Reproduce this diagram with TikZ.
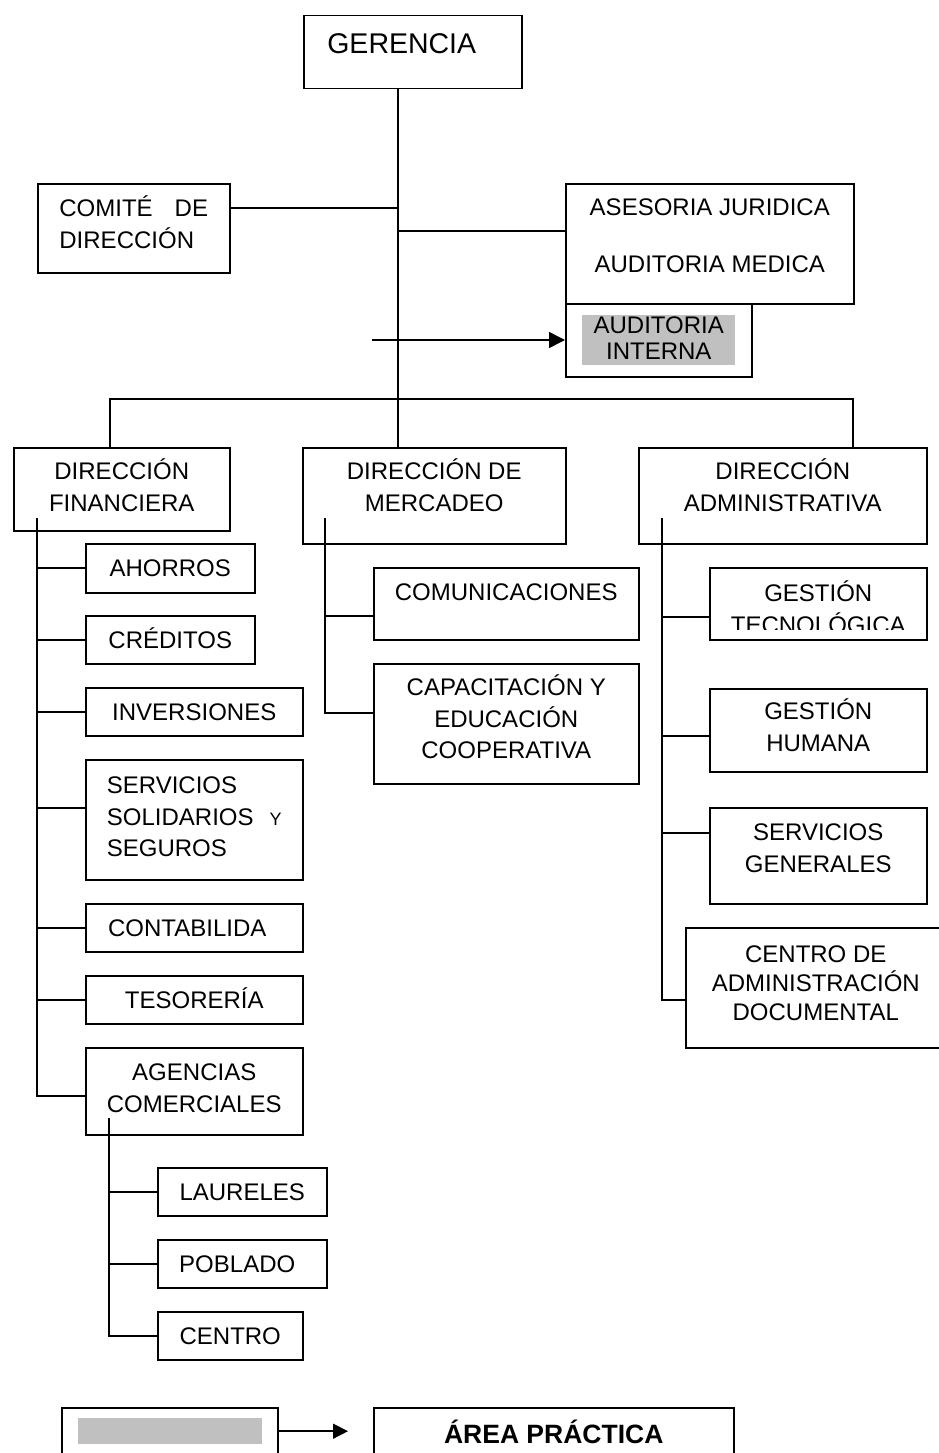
\documentclass[tikz,border=0pt]{standalone}
\usepackage{fontspec}
\setmainfont{Liberation Sans}
\usepackage{tikz}
\usetikzlibrary{positioning,calc,arrows.meta}

\definecolor{marca}{RGB}{192,192,192}
\tikzset{
  unit/.style={draw, line width=1.5pt, anchor=north west, align=center, inner sep=0pt,
    font=\fontsize{24}{31.5}\selectfont},
  oneline/.style={text height=17pt, text depth=0pt},
  link/.style={line width=1.5pt},
  marked/.style={fill=marca, inner sep=0pt},
}

\begin{document}
\begin{tikzpicture}[x=1pt,y=1pt,yscale=-1,xscale=1]
\useasboundingbox (0,0) rectangle (939,1453);
\clip (0,0) rectangle (939,1453);

%Shape: Rectangle [gerencia]
\node [unit, minimum width=218, minimum height=73, text height=20.5pt, text depth=17pt, font=\fontsize{28.5}{34}\selectfont] (gerencia) at (303,15) {GERENCIA\hspace*{22pt}};
%Shape: Rectangle [comite]
\node [unit, minimum width=192, minimum height=89, align=left, text depth=12pt] (comite) at (37,183) {COMITÉ\hspace{22pt}DE\\DIRECCIÓN};
%Shape: Rectangle [asesoria]
\node [unit, minimum width=288, minimum height=120, text depth=16pt] (asesoria) at (565,183) {ASESORIA JURIDICA\\[25.5pt]AUDITORIA MEDICA};
%Shape: Rectangle [audint]
\node [unit, minimum width=186, minimum height=73] (audint) at (565,303) {};
% Text Node
\node [marked, minimum width=153, minimum height=50, align=center, text depth=4pt, font=\fontsize{24}{26.5}\selectfont] (audtxt) at (audint.center) {AUDITORIA\\INTERNA};

%Shape: Rectangle [direcciones]
\node [unit, minimum width=216, minimum height=83, text depth=8pt] (dirfin) at (13,447) {DIRECCIÓN\\FINANCIERA};
\node [unit, minimum width=263, minimum height=96, text depth=21pt] (dirmer) at (302,447) {DIRECCIÓN DE\\MERCADEO};
\node [unit, minimum width=288, minimum height=96, text depth=21pt] (diradm) at (638,447) {DIRECCIÓN\\ADMINISTRATIVA};

%Shape: Rectangle [financiera]
\node [unit, oneline, minimum width=169, minimum height=49] (ahorros) at (85,543) {AHORROS};
\node [unit, oneline, minimum width=169, minimum height=48] (creditos) at (85,615) {CRÉDITOS};
\node [unit, oneline, minimum width=217, minimum height=48] (inversiones) at (85,687) {INVERSIONES};
\node [unit, minimum width=217, minimum height=120, align=left, text depth=6pt] (servicios) at (85,759) {SERVICIOS\\SOLIDARIOS\hspace{16pt}{\fontsize{18}{20}\selectfont Y}\\SEGUROS};
\node [unit, oneline, minimum width=217, minimum height=48] (contabilidad) at (85,903) {CONTABILIDA\hspace*{14pt}};
\node [unit, oneline, minimum width=217, minimum height=48] (tesoreria) at (85,975) {TESORERÍA};
\node [unit, minimum width=217, minimum height=87, text depth=6pt] (agencias) at (85,1047) {AGENCIAS\\COMERCIALES};
\node [unit, oneline, minimum width=169, minimum height=48] (laureles) at (157,1167) {LAURELES};
\node [unit, oneline, minimum width=169, minimum height=48] (poblado) at (157,1239) {POBLADO\hspace*{10pt}};
\node [unit, oneline, minimum width=145, minimum height=48] (centro) at (157,1311) {CENTRO};

%Shape: Rectangle [mercadeo]
\node [unit, minimum width=265, minimum height=72, text height=17pt, text depth=24pt] (comunicaciones) at (373,567) {COMUNICACIONES};
\node [unit, minimum width=265, minimum height=120, text depth=14pt] (capacitacion) at (373,663) {CAPACITACIÓN Y\\EDUCACIÓN\\COOPERATIVA};

%Shape: Rectangle [administrativa]
\node [unit, minimum width=217, minimum height=72] (gestec) at (709,567) {};
\begin{scope}
\clip (gestec.north west) rectangle ($(gestec.south east)+(0,-11)$);
% Text Node
\node [align=center, font=\fontsize{24}{31.5}\selectfont] (gestectxt) at ($(gestec.north)+(0,40)$) {GESTIÓN\\TECNOLÓGICA};
\end{scope}
\node [unit, minimum width=217, minimum height=83, text depth=10pt] (gesthum) at (709,688) {GESTIÓN\\HUMANA};
\node [unit, minimum width=217, minimum height=96, text depth=15pt] (servgen) at (709,807) {SERVICIOS\\GENERALES};
\node [unit, minimum width=260, minimum height=120, text depth=9pt, font=\fontsize{24}{29}\selectfont] (centroadm) at (685,927) {CENTRO DE\\ADMINISTRACIÓN\\DOCUMENTAL};

%Straight Lines [tronco]
\coordinate (cruce) at (398,399);
\draw [link] (gerencia.south -| cruce) -- (dirmer.north -| cruce);
\coordinate (jcomite) at (398,208);
\draw [link] (comite.east |- jcomite) -- (jcomite);
\coordinate (jasesoria) at (398,231);
\draw [link] (jasesoria) -- (asesoria.west |- jasesoria);
\coordinate (flecha) at (372,340);
\draw [link, -{Triangle[length=16pt,width=16pt]}] (flecha) -- (audint.west |- flecha);
\coordinate (busizq) at (110,399);
\coordinate (busder) at (853,399);
\draw [link] (dirfin.north -| busizq) -- (busizq) -- (busder) -- (diradm.north -| busder);

%Straight Lines [financiera]
\coordinate (finx) at (37,518);
\draw [link] (finx) |- ($(agencias.west)+(0,4.5)$);
\foreach \nodo/\dy in {ahorros/-0.5,creditos/0,inversiones/0,servicios/-12,contabilidad/0,tesoreria/0}
  \draw [link] ($(\nodo.west)+(0,\dy)$) coordinate (rama) -- (rama -| finx);
\coordinate (agex) at (109,1118);
\draw [link] (agex) |- (centro.west);
\foreach \nodo in {laureles,poblado}
  \draw [link] (\nodo.west) -- (\nodo.west -| agex);

%Straight Lines [mercadeo]
\coordinate (merx) at (325,518);
\draw [link] (merx) |- ($(capacitacion.west)+(0,-11)$);
\draw [link] ($(comunicaciones.west)+(0,12)$) coordinate (rama) -- (rama -| merx);

%Straight Lines [administrativa]
\coordinate (admx) at (662,518);
\draw [link] (admx) |- ($(centroadm.west)+(0,12)$);
\foreach \nodo/\dy in {gestec/13,gesthum/5.5,servgen/-23}
  \draw [link] ($(\nodo.west)+(0,\dy)$) coordinate (rama) -- (rama -| admx);

%Shape: Rectangle [leyenda]
\node [unit, minimum width=216, minimum height=53] (leyenda) at (61,1407) {};
\node [marked, minimum width=184, minimum height=26, below=11pt of leyenda.north] (muestra) {};
\node [unit, minimum width=360, minimum height=53, text height=19pt, text depth=0pt, font=\fontsize{26.5}{30}\selectfont\bfseries] (area) at (373,1407) {ÁREA PRÁCTICA};
\draw [link, -{Triangle[length=15pt,width=15pt]}, shorten >=25pt] (leyenda.east |- muestra) -- (area.west |- muestra);

\end{tikzpicture}
\end{document}
